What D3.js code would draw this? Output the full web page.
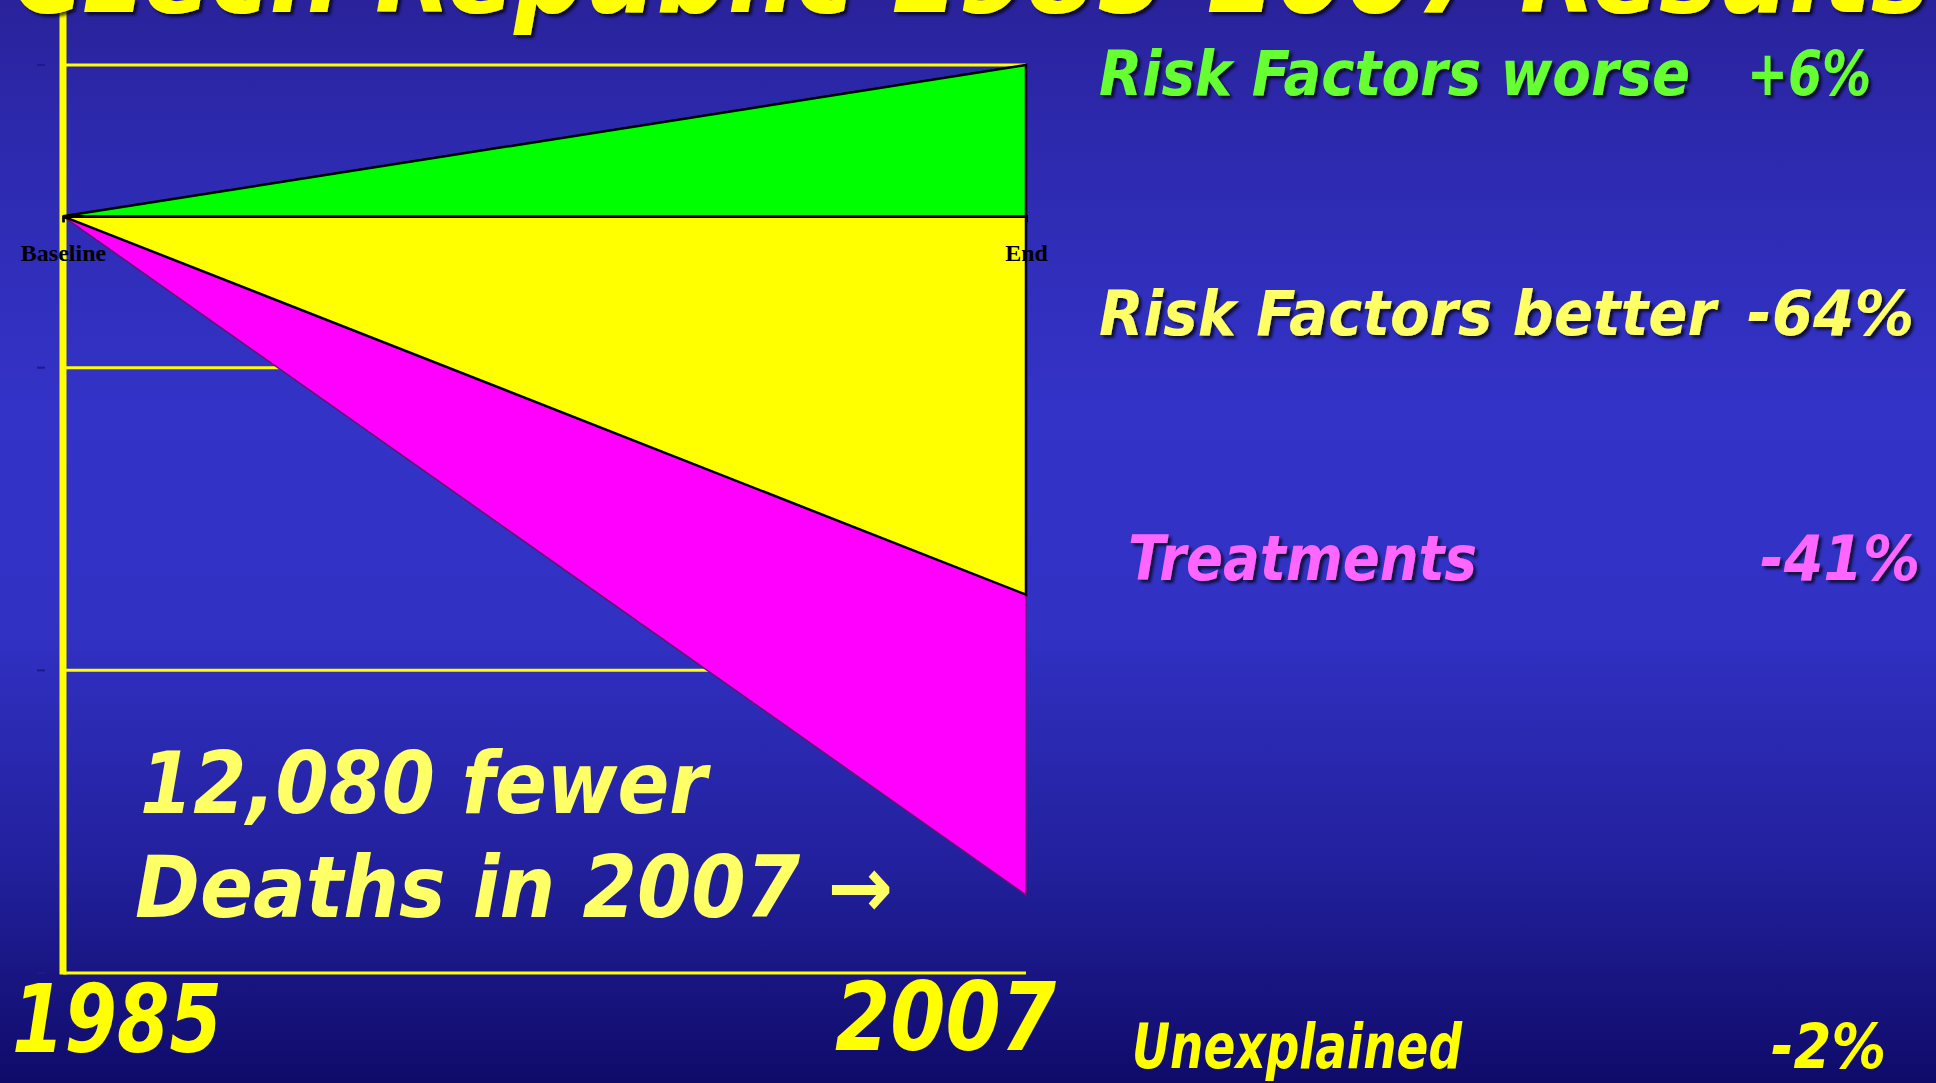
<!DOCTYPE html>
<html>
<head>
<meta charset="utf-8">
<script src="https://cdn.jsdelivr.net/npm/d3@7"></script>
<style>
  html, body { margin: 0; padding: 0; overflow: hidden; background: #2a2498; }
  svg { display: block; }
</style>
</head>
<body>
<script>
// data
var categories = ["Baseline", "End"];
var worse = [0, 2];          // risk factors worse (green wedge)
var better = [0, -5];        // risk factors better (yellow wedge)
var treat = [0, -8.97];      // treatments (magenta wedge, below yellow)
var yTicks = [2, -2, -6, -10];
var years = ["1985", "2007"];
var factorNames = ["Risk Factors worse", "Risk Factors better", "Treatments", "Unexplained"];
var factorPcts = ["+6%", "-64%", "-41%", "-2%"];
var noteLines = ["12,080 fewer", "Deaths in 2007 \u2192"];
var titleText = "Czech Republic  1985-2007  Results";

var width = 1936, height = 1083;
var comic = "'Comic Sans MS', 'DejaVu Sans', sans-serif";

var svg = d3.select("body").append("svg")
  .attr("width", width)
  .attr("height", height);

var defs = svg.append("defs");
var grad = defs.append("linearGradient")
  .attr("id", "bg").attr("x1", 0).attr("y1", 0).attr("x2", 0).attr("y2", 1);
[["0%", "#29229a"], ["12%", "#2d29ad"], ["38%", "#3333c8"], ["58%", "#3131c4"],
 ["80%", "#22209c"], ["100%", "#0f0b6a"]].forEach(function(s){
  grad.append("stop").attr("offset", s[0]).attr("stop-color", s[1]);
});
defs.append("filter").attr("id", "shadow")
  .attr("x", "-5%").attr("y", "-20%").attr("width", "110%").attr("height", "150%")
  .append("feDropShadow")
  .attr("dx", 3).attr("dy", 3).attr("stdDeviation", 1.5)
  .attr("flood-color", "#000").attr("flood-opacity", 0.7);

svg.append("rect").attr("width", width).attr("height", height).attr("fill", "url(#bg)");

var x = d3.scalePoint().domain(categories).range([63, 1026]);
var y = d3.scaleLinear().domain([-10, 2]).range([973, 65]);

// gridlines (behind the wedges)
svg.append("g").selectAll("line")
  .data(yTicks)
  .enter().append("line")
  .attr("x1", x.range()[0]).attr("x2", x.range()[1])
  .attr("y1", function(d){ return y(d); })
  .attr("y2", function(d){ return y(d); })
  .attr("stroke", "#ffff00")
  .attr("stroke-width", 3);

// tiny tick marks left of the axis
svg.append("g").selectAll("line")
  .data(yTicks)
  .enter().append("line")
  .attr("x1", 37).attr("x2", 45)
  .attr("y1", function(d){ return y(d); })
  .attr("y2", function(d){ return y(d); })
  .attr("stroke", "#1e1a8a")
  .attr("stroke-width", 2);

// vertical axis, runs up to the top edge
svg.append("line")
  .attr("x1", x.range()[0]).attr("x2", x.range()[0])
  .attr("y1", 0).attr("y2", y(-10) + 1.5)
  .attr("stroke", "#ffff00")
  .attr("stroke-width", 7);

var idx = d3.range(categories.length);

var pinkArea = d3.area()
  .x(function(i){ return x(categories[i]); })
  .y0(function(i){ return y(better[i]); })
  .y1(function(i){ return y(treat[i]); });
var yellowArea = d3.area()
  .x(function(i){ return x(categories[i]); })
  .y0(y(0))
  .y1(function(i){ return y(better[i]); });
var greenArea = d3.area()
  .x(function(i){ return x(categories[i]); })
  .y0(y(0))
  .y1(function(i){ return y(worse[i]); });

svg.append("path").attr("d", pinkArea(idx))
  .attr("fill", "#ff00ff").attr("stroke", "#6a1070").attr("stroke-width", 1.5);
svg.append("path").attr("d", yellowArea(idx))
  .attr("fill", "#ffff00").attr("stroke", "#000").attr("stroke-width", 2.5);
svg.append("path").attr("d", greenArea(idx))
  .attr("fill", "#00ff00").attr("stroke", "#000").attr("stroke-width", 2.5);

// category axis on the zero line
var catAxis = svg.append("g")
  .attr("transform", "translate(0," + y(0) + ")")
  .call(d3.axisBottom(x).tickSize(6).tickPadding(22));
catAxis.select(".domain").attr("stroke", "#000").attr("stroke-width", 2.5);
catAxis.selectAll(".tick line").attr("stroke", "#000").attr("stroke-width", 2);
catAxis.selectAll(".tick text")
  .attr("fill", "#000")
  .style("font-family", "'Liberation Serif', 'Times New Roman', serif")
  .style("font-weight", "bold")
  .style("font-size", "24px");

// helper for the hand-lettered slide text
function slideText(str, x0, x1, base, size, color, shadow) {
  var t = svg.append("text")
    .attr("x", x0).attr("y", base)
    .attr("textLength", x1 - x0)
    .attr("lengthAdjust", "spacingAndGlyphs")
    .attr("fill", color)
    .style("font-family", comic)
    .style("font-weight", "bold")
    .style("font-style", "italic")
    .style("font-size", size + "px")
    .text(str);
  if (shadow) t.attr("filter", "url(#shadow)");
  return t;
}

// title, mostly cropped off the top edge (as on the slide)
slideText(titleText, 12, 1930, 12, 110, "#ffff00", true);

// right-hand breakdown
var rowBase = [95, 335, 580, 1068];
var nameX = [[1099, 1690], [1099, 1716], [1128, 1477], [1132, 1462]];
var pctX = [[1747, 1871], [1747, 1914], [1760, 1920], [1771, 1886]];
var rowColor = ["#66ff33", "#ffff66", "#ff66ff", "#ffff00"];
factorNames.forEach(function(n, i){
  var sh = i < 3;
  slideText(n, nameX[i][0], nameX[i][1], rowBase[i], 62, rowColor[i], sh);
  slideText(factorPcts[i], pctX[i][0], pctX[i][1], rowBase[i], 62, rowColor[i], sh);
});

// year labels under the axis
slideText(years[0], 12, 222, 1052, 95, "#ffff00", false);
slideText(years[1], 835, 1056, 1050, 95, "#ffff00", false);

// annotation
slideText(noteLines[0], 140, 707, 813, 86, "#ffff66", false);
slideText(noteLines[1], 135, 893, 917, 86, "#ffff66", false);
</script>
</body>
</html>
